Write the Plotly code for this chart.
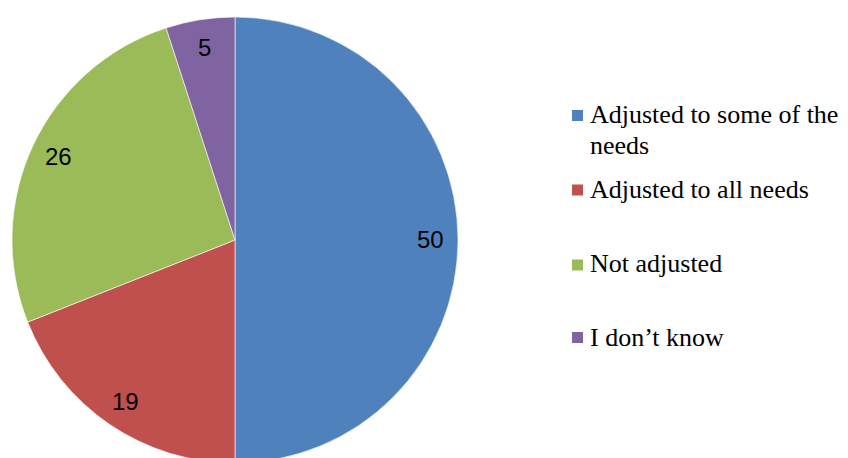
import math
import plotly.graph_objects as go

# ---- data ----
labels = ["Adjusted to some of the needs", "Adjusted to all needs", "Not adjusted", "I don\u2019t know"]
legend_text = ["Adjusted to some of the<br>needs", "Adjusted to all needs", "Not adjusted", "I don\u2019t know"]
values = [50, 19, 26, 5]
colors = ["#4F81BD", "#C0504D", "#9BBB59", "#8064A2"]

W, H = 848, 458
OFF = 8  # page body margin

# pie geometry in screen pixels
cx_s, cy_s, r = 235, 240, 223
cx = cx_s - OFF
cy = cy_s - OFF


def px2x(px):
    return (px - OFF) / W


def py2y(py):
    return 1 - (py - OFF) / H


fig = go.Figure(go.Pie(
    labels=labels,
    values=values,
    sort=False,
    direction="clockwise",
    rotation=0,
    marker=dict(colors=colors, line=dict(color="rgba(255,255,255,0.6)", width=1)),
    textinfo="none",
    hoverinfo="label+value",
    showlegend=False,
    domain=dict(x=[(cx - r) / W, (cx + r) / W], y=[1 - (cy + r) / H, 1 - (cy - r) / H]),
))

annotations = []
shapes = []
total = sum(values)
cum = 0
for v in values:
    mid = (cum + v / 2) / total * 2 * math.pi
    cum += v
    px = cx_s + 0.875 * r * math.sin(mid)
    py = cy_s - 0.875 * r * math.cos(mid)
    annotations.append(dict(
        x=px2x(px), y=py2y(py), xref="paper", yref="paper",
        text=str(v), showarrow=False, xanchor="center", yanchor="middle",
        font=dict(family="Liberation Sans, Arial, sans-serif", size=24, color="#000000"),
    ))

# manual legend (screen px)
sq_y = [115.5, 190, 265, 337.5]
txt_y = [114, 189, 263, 337]
line_gap = 32
sq = 11
fs = 26
for i, t in enumerate(legend_text):
    yc = sq_y[i]
    shapes.append(dict(type="rect", xref="paper", yref="paper",
                       x0=px2x(572), x1=px2x(572 + sq),
                       y0=py2y(yc - sq / 2), y1=py2y(yc + sq / 2),
                       fillcolor=colors[i], line=dict(width=0)))
    for j, line in enumerate(t.split("<br>")):
        annotations.append(dict(x=px2x(588), y=py2y(txt_y[i] + j * line_gap), xref="paper", yref="paper",
                                text=line, showarrow=False, xanchor="left", yanchor="middle", align="left",
                                font=dict(family="Liberation Serif, Times New Roman, serif", size=fs, color="#000000")))

fig.update_layout(
    width=W, height=H,
    margin=dict(l=0, r=0, t=0, b=0),
    paper_bgcolor="white",
    plot_bgcolor="white",
    annotations=annotations,
    shapes=shapes,
)

fig.write_html("out.html")
